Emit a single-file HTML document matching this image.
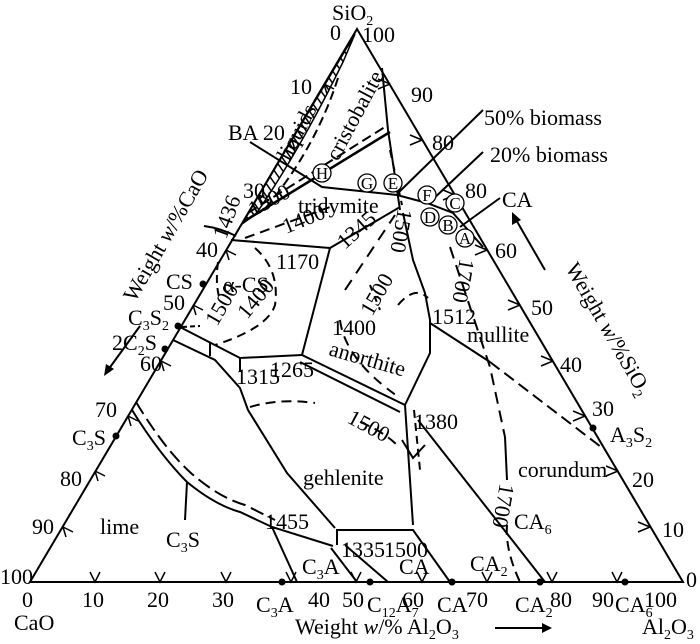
<!DOCTYPE html>
<html><head><meta charset="utf-8"><style>
html,body{margin:0;padding:0;background:#fff}
svg{display:block}
text{font-family:"Liberation Serif",serif;fill:#000}
</style></head><body>
<svg width="700" height="644" viewBox="0 0 700 644" xmlns="http://www.w3.org/2000/svg">
<defs>
<pattern id="h" width="7" height="7" patternUnits="userSpaceOnUse" patternTransform="rotate(-35)">
<line x1="0" y1="0" x2="0" y2="7" stroke="#000" stroke-width="3"/>
</pattern>
</defs>
<g fill="none" stroke="#000" stroke-width="2">
<polygon points="30,582 683,582 357,29"/>
<path d="M355,34 L242,224 L256,214 Q300,150 343,62 Z" fill="url(#h)" stroke-width="1.5"/>
<path d="M338,78 Q315,150 264,210" stroke-dasharray="9,5"/>
<line x1="243" y1="222" x2="390" y2="132" stroke-width="2.5"/>
<line x1="248" y1="213" x2="388" y2="125" stroke-dasharray="10,5"/>
<polyline points="382,68 388,130 400,210"/>
<line x1="390" y1="150" x2="402" y2="205" stroke-dasharray="8,5"/>
<polyline points="250,142 322,187 397,195 427,203 453,213 483,247"/>
<line x1="398" y1="193" x2="483" y2="110"/>
<line x1="430" y1="202" x2="483" y2="152"/>
<line x1="460" y1="227" x2="500" y2="198"/>
<path d="M204,226 Q220,228 236,236"/>
<line x1="245" y1="238" x2="330" y2="207" stroke-dasharray="10,6"/>
<line x1="231" y1="240" x2="330" y2="248"/>
<line x1="330" y1="248" x2="400" y2="207"/>
<line x1="330" y1="248" x2="302" y2="355"/>
<path d="M255,248 Q280,270 275,305 Q268,328 215,345" stroke-dasharray="9,6"/>
<path d="M218,262 Q215,285 220,300" stroke-dasharray="8,5"/>
<line x1="182" y1="327" x2="200" y2="326" stroke-dasharray="5,3"/>
<line x1="178" y1="326" x2="240" y2="358"/>
<polyline points="173,340 215,360 240,388 248,410 287,473 335,528"/>
<line x1="210" y1="343" x2="210" y2="356"/>
<line x1="240" y1="358" x2="240" y2="372"/>
<line x1="240" y1="358" x2="302" y2="355"/>
<line x1="302" y1="355" x2="405" y2="405"/>
<line x1="300" y1="362" x2="400" y2="412"/>
<path d="M250,407 Q280,398 315,403 M360,422 Q385,432 400,448" stroke-dasharray="10,6"/>
<path d="M340,320 Q345,360 400,398" stroke-dasharray="10,7"/>
<path d="M398,305 Q415,285 428,298" stroke-dasharray="9,6"/>
<line x1="345" y1="290" x2="395" y2="215" stroke-dasharray="12,8"/>
<line x1="370" y1="285" x2="380" y2="310" stroke-dasharray="6,6"/>
<polyline points="405,405 430,353 430,320 425,293 413,260 403,213"/>
<line x1="405" y1="405" x2="413" y2="525"/>
<line x1="414" y1="410" x2="420" y2="470" stroke-dasharray="8,5"/>
<polyline points="402,440 413,458 425,445"/>
<line x1="418" y1="420" x2="545" y2="582"/>
<line x1="430" y1="323" x2="490" y2="362"/>
<line x1="490" y1="362" x2="605" y2="450" stroke-dasharray="12,6"/>
<polyline points="450,247 490,367 505,437" stroke-dasharray="12,7"/>
<line x1="505" y1="437" x2="507" y2="480"/>
<path d="M507,525 Q505,550 520,582" stroke-dasharray="10,6"/>
<path d="M132,410 Q160,455 187,482 Q215,505 240,512 L272,527 L333,546"/>
<path d="M136,402 Q165,450 192,474 Q220,498 245,505 L275,520" stroke-dasharray="14,6"/>
<line x1="187" y1="482" x2="185" y2="520"/>
<line x1="272" y1="527" x2="297" y2="582"/>
<polyline points="337,545 337,530 413,530 450,582"/>
<line x1="331" y1="548" x2="357" y2="582"/>
<line x1="345" y1="545" x2="388" y2="582"/>
<line x1="140" y1="326" x2="108" y2="370"/>
<line x1="545" y1="270" x2="515" y2="218"/>
<line x1="495" y1="628" x2="545" y2="628"/>
</g>
<g fill="#000" stroke="none">
<polygon points="104,376 106,364 114,369"/>
<polygon points="512,212 521,220 512,225"/>
<polygon points="552,628 542,623 542,633"/>
<circle cx="203" cy="284" r="3.5"/><circle cx="178" cy="326" r="3.5"/><circle cx="165" cy="349" r="3.5"/>
<circle cx="116" cy="436" r="3.5"/><circle cx="282" cy="582" r="3.5"/><circle cx="370" cy="582" r="3.5"/>
<circle cx="452" cy="582" r="3.5"/><circle cx="540" cy="582" r="3.5"/><circle cx="625" cy="582" r="3.5"/>
<circle cx="593" cy="428" r="3.5"/>
</g>
<g fill="none" stroke="#000" stroke-width="1.5">
<path d="M90,572 L95,582 L100,572 M155,572 L160,582 L165,572 M221,572 L226,582 L231,572 M286,572 L291,582 L296,572 M351,572 L356,582 L361,572 M417,572 L422,582 L427,572 M482,572 L487,582 L492,572 M547,572 L552,582 L557,572 M612,572 L617,582 L622,572"/>
<path d="M324,84 l3,10 M324,84 l10,5 M292,140 l3,10 M292,140 l10,5 M259,195 l3,10 M259,195 l10,5 M226,250 l3,10 M226,250 l10,5 M193,305 l3,10 M193,305 l10,5 M161,361 l3,10 M161,361 l10,5 M128,416 l3,10 M128,416 l10,5 M95,471 l3,10 M95,471 l10,5 M63,527 l3,10 M63,527 l10,5"/>
<path d="M390,84 l-12,-5 M390,84 l-12,5 M422,140 l-12,-5 M422,140 l-12,5 M455,195 l-12,-5 M455,195 l-12,5 M487,250 l-12,-5 M487,250 l-12,5 M520,305 l-12,-5 M520,305 l-12,5 M553,361 l-12,-5 M553,361 l-12,5 M585,416 l-12,-5 M585,416 l-12,5 M618,471 l-12,-5 M618,471 l-12,5 M650,527 l-12,-5 M650,527 l-12,5"/>
</g>
<g fill="#fff" stroke="#000" stroke-width="1.3">
<circle cx="322" cy="173" r="9"/><circle cx="367" cy="183" r="9"/><circle cx="393" cy="183" r="9"/>
<circle cx="427" cy="195" r="9"/><circle cx="455" cy="203" r="9"/><circle cx="430" cy="217" r="9"/>
<circle cx="448" cy="225" r="9"/><circle cx="465" cy="238" r="9"/>
</g>
<g font-size="17" text-anchor="middle">
<text x="322" y="179">H</text><text x="367" y="189">G</text><text x="393" y="189">E</text>
<text x="427" y="201">F</text><text x="455" y="209">C</text><text x="430" y="223">D</text>
<text x="448" y="231">B</text><text x="465" y="244">A</text>
</g>
<g font-size="22">
<text x="332" y="20">SiO<tspan font-size="14" dy="5">2</tspan></text>
<text x="330" y="40">0</text><text x="362" y="42">100</text>
<text x="290" y="94">10</text><text x="228" y="140">BA 20</text><text x="243" y="198">30</text>
<text x="196" y="257">40</text><text x="163" y="310">50</text><text x="140" y="371">60</text>
<text x="95" y="417">70</text><text x="60" y="486">80</text><text x="32" y="534">90</text><text x="0" y="584">100</text>
<text x="411" y="102">90</text><text x="432" y="150">80</text><text x="465" y="198">80</text>
<text x="495" y="258">60</text><text x="531" y="315">50</text><text x="560" y="372">40</text>
<text x="592" y="416">30</text><text x="632" y="487">20</text><text x="662" y="537">10</text><text x="686" y="587">0</text>
<text x="22" y="607">0</text><text x="82" y="607">10</text><text x="147" y="607">20</text><text x="212" y="607">30</text>
<text x="308" y="607">40</text><text x="342" y="607">50</text><text x="402" y="607">60</text><text x="466" y="607">70</text>
<text x="550" y="607">80</text><text x="592" y="607">90</text><text x="644" y="607">100</text>
<text x="14" y="630">CaO</text>
<text x="256" y="612">C<tspan font-size="14" dy="5">3</tspan><tspan dy="-5">A</tspan></text>
<text x="367" y="612">C<tspan font-size="14" dy="5">12</tspan><tspan dy="-5">A</tspan><tspan font-size="14" dy="5">7</tspan></text>
<text x="437" y="612">CA</text>
<text x="515" y="612">CA<tspan font-size="14" dy="5">2</tspan></text>
<text x="615" y="612">CA<tspan font-size="14" dy="5">6</tspan></text>
<text x="295" y="634">Weight <tspan font-style="italic">w</tspan>/% Al<tspan font-size="14" dy="5">2</tspan><tspan dy="-5">O</tspan><tspan font-size="14" dy="5">3</tspan></text>
<text x="642" y="634">Al<tspan font-size="14" dy="5">2</tspan><tspan dy="-5">O</tspan><tspan font-size="14" dy="5">3</tspan></text>
<text x="484" y="125">50% biomass</text>
<text x="490" y="162">20% biomass</text>
<text x="502" y="207">CA</text>
<text x="298" y="213">tridymite</text>
<text x="223" y="292">α-CS</text>
<text x="166" y="289">CS</text>
<text x="128" y="325">C<tspan font-size="14" dy="5">3</tspan><tspan dy="-5">S</tspan><tspan font-size="14" dy="5">2</tspan></text>
<text x="112" y="350">2C<tspan font-size="14" dy="5">2</tspan><tspan dy="-5">S</tspan></text>
<text x="72" y="445">C<tspan font-size="14" dy="5">3</tspan><tspan dy="-5">S</tspan></text>
<text x="100" y="534">lime</text>
<text x="166" y="547">C<tspan font-size="14" dy="5">3</tspan><tspan dy="-5">S</tspan></text>
<text x="303" y="485">gehlenite</text>
<text x="467" y="342">mullite</text>
<text x="518" y="477">corundum</text>
<text x="514" y="529">CA<tspan font-size="14" dy="5">6</tspan></text>
<text x="302" y="574">C<tspan font-size="14" dy="5">3</tspan><tspan dy="-5">A</tspan></text>
<text x="399" y="574">CA</text>
<text x="470" y="571">CA<tspan font-size="14" dy="5">2</tspan></text>
<text x="384" y="557">1500</text><text x="341" y="557">1335</text><text x="265" y="529">1455</text>
<text x="236" y="384">1315</text><text x="270" y="377">1265</text><text x="414" y="429">1380</text>
<text x="432" y="324">1512</text><text x="332" y="335">1400</text><text x="276" y="269">1170</text>
<text x="610" y="442">A<tspan font-size="14" dy="5">3</tspan><tspan dy="-5">S</tspan><tspan font-size="14" dy="5">2</tspan></text>
<text transform="translate(345,250) rotate(-42)">1345</text>
<text transform="translate(286,234) rotate(-22)">1400</text>
<text transform="translate(253,217) rotate(-28)">1500</text>
<text transform="translate(328,355) rotate(16)">anorthite</text>
<text transform="translate(346,422) rotate(28)">1500</text>
<text transform="translate(398,208) rotate(100)">1500</text>
<text transform="translate(460,258) rotate(100)">1700</text>
<text transform="translate(500,483) rotate(100)">1700</text>
<text transform="translate(372,317) rotate(-60)">1500</text>
<text transform="translate(217,327) rotate(-60)">1500</text>
<text transform="translate(247,320) rotate(-50)">1400</text>
<text transform="translate(226,240) rotate(-70)">1436</text>
<text transform="translate(338,162) rotate(-62)">cristobalite</text>
<text transform="translate(289,162) rotate(-62)">liquids</text>
<text transform="translate(135,303) rotate(-60)">Weight <tspan font-style="italic">w</tspan>/%CaO</text>
<text transform="translate(565,268) rotate(60)">Weight <tspan font-style="italic">w</tspan>/%SiO<tspan font-size="14" dy="5">2</tspan></text>
</g>
</svg>
</body></html>
